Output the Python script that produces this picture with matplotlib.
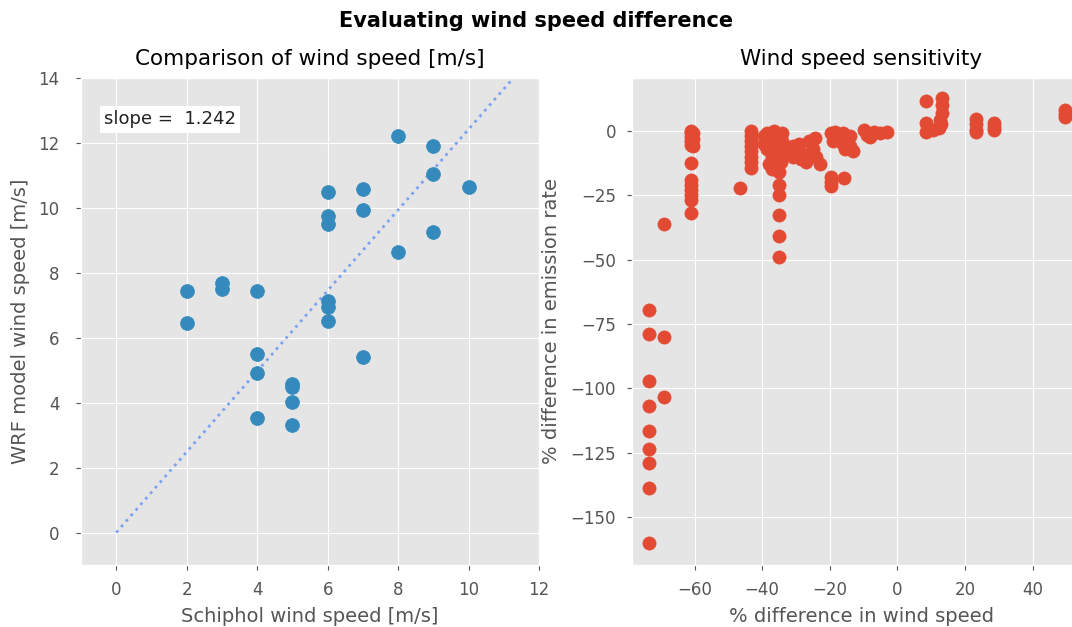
import numpy as np
import matplotlib
matplotlib.use('Agg')
import matplotlib.pyplot as plt

plt.style.use('ggplot')

# Schiphol observations vs WRF model wind speed [m/s]
schiphol_ws = [8, 9, 9, 10, 6, 7, 7, 6, 6, 9, 8,
               2, 3, 3, 4, 6, 6, 6, 2, 4, 7, 4, 5, 5, 5, 4, 5]
wrf_ws = [12.2, 11.92, 11.03, 10.64, 10.49, 10.59, 9.93, 9.75, 9.49, 9.26, 8.65,
          7.45, 7.68, 7.50, 7.45, 7.13, 6.96, 6.50, 6.45, 5.51, 5.40, 4.90, 4.58,
          4.47, 4.01, 3.53, 3.31]
slope = 1.242

# % difference in wind speed vs % difference in emission rate
wind_diff = [-73.5]*9 + [-69.1]*3 \
    + [-61.2]*12 + [-60.5]*3 \
    + [-46.5] + [-43.4]*8 \
    + [-39.5, -39.5, -38.5, -38.5, -37.5, -37, -36.5, -36, -35.5, -35, -34.5,
       -34, -34, -33.5, -33.5, -38, -37] \
    + [-35]*6 \
    + [-31, -31, -29, -28, -27, -26, -25, -24, -23, -24.5, -30, -28.5] \
    + [-19.5, -19, -18, -17, -16, -16, -15, -14, -13, -14, -18.5, -15.5] \
    + [-19.7, -19.7, -19.5, -15.8] \
    + [-10, -9, -8, -7, -5, -3] \
    + [8.4, 8.4, 8.4, 10.4, 13.3, 13.3, 13.3, 12.6, 12.3, 12.8] \
    + [23.2]*4 + [28.6]*3 + [49.5]*3
emis_diff = [-69.7, -78.9, -97.0, -106.7, -116.4, -123.4, -129.0, -138.7, -159.8,
             -36.2, -80.2, -103.4,
             0, -1, -2.5, -4, -5.5, -12.5, -19, -21, -23, -25, -27, -32,
             -1, -3, -6,
             -22.3,
             0, -2, -4, -6, -8, -10, -12, -14.5,
             -2, -5, -1, -7, -3, -10, 0, -5, -2, -8, -12, -1, -4, -6, -9, -13, -15,
             -15.8, -21, -24.8, -32.6, -41, -48.8,
             -6, -10, -5, -9, -12, -4, -7, -10, -13, -2.8, -8, -11,
             -1, -4, -2, -3, -1, -5, -4, -6, -8, -2, -0.5, -7,
             -17.8, -19.7, -21.6, -18.4,
             0.5, -1.5, -2.5, -0.5, -1, -0.5,
             11.4, 3, -0.3, 0.4, 12.7, 10.1, 6.9, 4.3, 1, 2.5,
             4.5, 2.5, 0.5, -0.5,
             3, 1.5, 0.2,
             8, 6.5, 5.5]

fig = plt.figure(figsize=(10.72, 6.27), dpi=100)
ax1 = fig.add_axes([0.0756, 0.0989, 0.4272, 0.7767])
ax2 = fig.add_axes([0.5896, 0.0989, 0.4272, 0.7767])

fig.suptitle('Evaluating wind speed difference', fontweight='bold', fontsize=15, y=0.982)

ax1.scatter(schiphol_ws, wrf_ws, s=100, color='#348ABD', zorder=3)
xl = np.linspace(0, 12, 100)
ax1.plot(xl, slope*xl, ':', color='#7aa3f0', linewidth=2)
ax1.text(0.05, 0.915, 'slope =  %.3f' % slope, transform=ax1.transAxes,
         va='center', fontsize=13, color='#222222',
         bbox=dict(facecolor='white', edgecolor='none', pad=3))
ax1.set_xlim(-1, 12)
ax1.set_ylim(-1, 14)
ax1.set_xticks(range(0, 13, 2))
ax1.set_yticks(range(0, 15, 2))
ax1.set_title('Comparison of wind speed [m/s]', fontsize=15.5, pad=9)
ax1.set_xlabel('Schiphol wind speed [m/s]', fontsize=14, labelpad=6)
ax1.set_ylabel('WRF model wind speed [m/s]', fontsize=14, labelpad=6)
ax1.tick_params(axis='y', pad=12)

ax2.scatter(wind_diff, emis_diff, s=90, color='#E24A33', zorder=3)
ax2.set_xlim(-78.5, 57)
ax2.set_ylim(-168.5, 20.5)
ax2.set_xticks([-60, -40, -20, 0, 20, 40])
ax2.set_title('Wind speed sensitivity', fontsize=15.5, pad=9)
ax2.set_xlabel('% difference in wind speed', fontsize=14, labelpad=6)
ax2.set_ylabel('% difference in emission rate', fontsize=14, labelpad=7)
ax2.tick_params(axis='y', pad=8)

for ax in (ax1, ax2):
    ax.tick_params(labelsize=12)
    ax.tick_params(axis='x', pad=8)

fig.savefig('out.png', dpi=100)
